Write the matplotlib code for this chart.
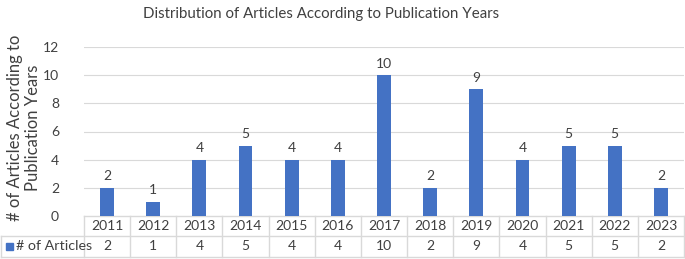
import matplotlib
matplotlib.use("Agg")
import matplotlib.pyplot as plt
from matplotlib.patches import Rectangle

years = ["2011", "2012", "2013", "2014", "2015", "2016", "2017", "2018",
         "2019", "2020", "2021", "2022", "2023"]
articles = [2, 1, 4, 5, 4, 4, 10, 2, 9, 4, 5, 5, 2]
series_name = "# of Articles"
title = "Distribution of Articles According to Publication Years"
ylabel = "# of Articles According to\nPublication Years"
yticks = [0, 2, 4, 6, 8, 10, 12]

plt.rcParams['font.family'] = ['Lato', 'DejaVu Sans']
W, H = 685, 259
fig = plt.figure(figsize=(W / 100, H / 100), dpi=100)
L, R, B, T = 84, 684, 216, 47
ax = fig.add_axes([L / W, 1 - B / H, (R - L) / W, (B - T) / H])

blue = "#4472C4"
grid = "#d9d9d9"
txt = "#404040"
fs = 10
x = list(range(len(years)))
ax.bar(x, articles, width=0.30, color=blue, zorder=3)
for xi, v in zip(x, articles):
    ax.text(xi, v + 0.4, str(v), ha="center", va="bottom", fontsize=fs, color=txt)

ax.set_xlim(-0.5, len(years) - 0.5)
ax.set_ylim(0, 12)
ax.set_yticks(yticks)
ax.set_yticklabels([str(t) for t in yticks], fontsize=fs, color=txt)
ax.tick_params(axis="y", length=0, pad=18)
ax.set_xticks([])
for s in ax.spines.values():
    s.set_visible(False)
for t in yticks[1:]:
    ax.axhline(t, color=grid, lw=0.8, zorder=1)

fig.text(321 / W, 1 - 14 / H, title, ha="center", va="center", fontsize=10.8, color=txt)
fig.text(24 / W, 1 - 128 / H, ylabel, rotation=90, ha="center", va="center",
         fontsize=12, color=txt, linespacing=1.2)

# data table
ph = B - T
r1 = -(236 - B) / ph
r2 = -(257 - B) / ph
leftax = (1 - L) / (R - L)
trans = ax.get_xaxis_transform()
lk = dict(color=grid, lw=1.0, clip_on=False, zorder=2)
n = len(years)
ax.plot([-0.5, n - 0.5], [0, 0], transform=trans, **lk)
ax.plot([leftax, 1], [r1, r1], transform=ax.transAxes, **lk)
ax.plot([leftax, 1], [r2, r2], transform=ax.transAxes, **lk)
ax.plot([leftax, leftax], [r1, r2], transform=ax.transAxes, **lk)
for i in range(n + 1):
    ax.plot([i - 0.5, i - 0.5], [0, r2], transform=trans, **lk)
for xi, yr, v in zip(x, years, articles):
    ax.text(xi, r1 / 2, yr, ha="center", va="center", fontsize=fs, color=txt, transform=trans)
    ax.text(xi, (r1 + r2) / 2, str(v), ha="center", va="center", fontsize=fs, color=txt, transform=trans)
ax.add_patch(Rectangle(((6 - L) / (R - L), (r1 + r2) / 2 - 3.5 / ph), 7 / (R - L), 7 / ph,
                       transform=ax.transAxes, color=blue, clip_on=False))
ax.text((16 - L) / (R - L), (r1 + r2) / 2, series_name, ha="left", va="center",
        fontsize=10.3, color=txt, transform=ax.transAxes)

fig.savefig("out.png", dpi=100)
